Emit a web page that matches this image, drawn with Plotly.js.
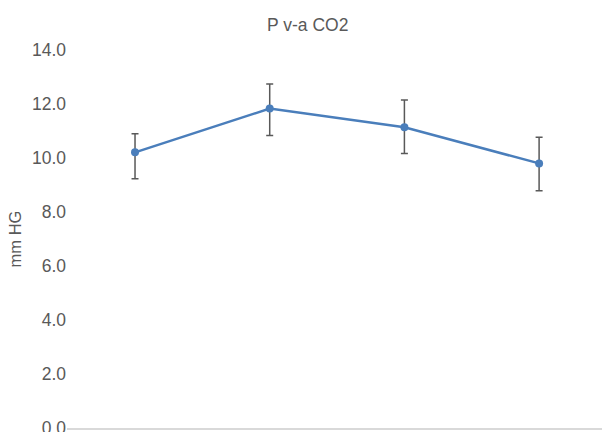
<!DOCTYPE html>
<html>
<head>
<meta charset="utf-8">
<script src="https://cdn.plot.ly/plotly-3.0.1.min.js"></script>
<style>html,body{margin:0;padding:0;background:#fff;}#chart{width:602px;height:432px;}</style>
</head>
<body>
<div id="chart"></div>
<script>
var categories = [0, 1, 2, 3];
var values = [10.21, 11.83, 11.14, 9.80];
var errPlus = [0.69, 0.91, 1.01, 0.97];
var errMinus = [0.98, 1.00, 0.97, 1.01];
var yTicks = [0, 2, 4, 6, 8, 10, 12, 14];
var yTickLabels = ["0.0", "2.0", "4.0", "6.0", "8.0", "10.0", "12.0", "14.0"];

var trace = {
  x: categories,
  y: values,
  type: 'scatter',
  mode: 'lines+markers',
  line: {color: '#4a7ebb', width: 2.5},
  marker: {color: '#4a7ebb', size: 8},
  error_y: {
    type: 'data',
    symmetric: false,
    array: errPlus,
    arrayminus: errMinus,
    color: '#595959',
    thickness: 1.5,
    width: 3.5
  },
  hoverinfo: 'none'
};

var layout = {
  width: 602,
  height: 432,
  margin: {l: 67, r: 0, t: 50, b: 4},
  paper_bgcolor: '#ffffff',
  plot_bgcolor: '#ffffff',
  showlegend: false,
  font: {family: 'Liberation Sans, Arial, sans-serif', color: '#595959', size: 17},
  title: {
    text: 'P v-a CO2',
    font: {size: 17.5, color: '#595959'},
    x: 0.45, xref: 'paper', xanchor: 'center',
    y: 0.943, yref: 'container', yanchor: 'middle'
  },
  xaxis: {
    range: [-0.505, 3.467],
    showticklabels: false,
    showgrid: false,
    zeroline: false,
    showline: true,
    linecolor: '#d9d9d9',
    linewidth: 1.5,
    ticks: '',
    fixedrange: true
  },
  yaxis: {
    range: [0, 14],
    tickvals: yTicks,
    ticktext: yTickLabels,
    showgrid: false,
    zeroline: false,
    showline: false,
    ticks: '',
    ticklabeloverflow: 'allow',
    tickfont: {size: 17.5, color: '#595959'},
    title: {text: 'mm HG', font: {size: 16.5, color: '#595959'}, standoff: 6},
    fixedrange: true
  }
};

Plotly.newPlot('chart', [trace], layout, {displayModeBar: false, staticPlot: true});
</script>
</body>
</html>
